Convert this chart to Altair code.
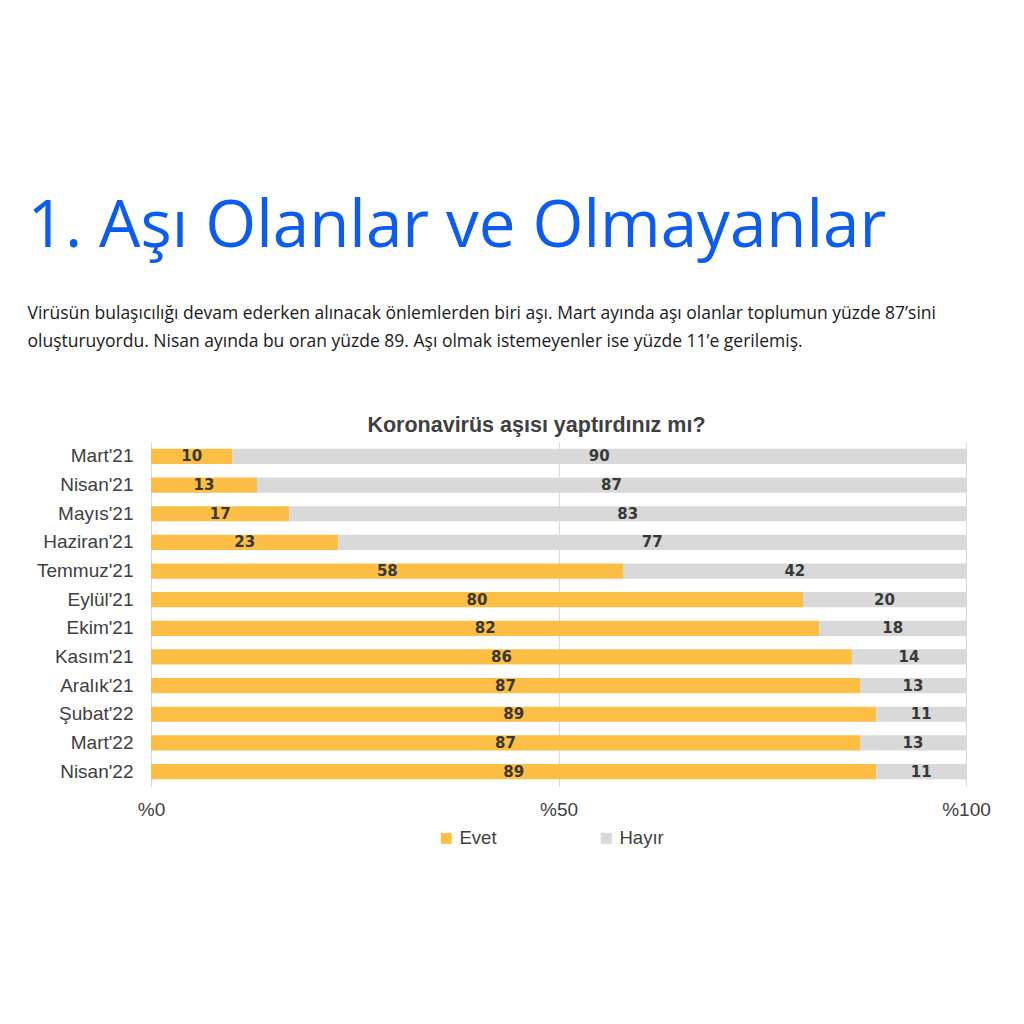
import altair as alt
import pandas as pd

months = ["Mart'21", "Nisan'21", "Mayıs'21", "Haziran'21", "Temmuz'21", "Eylül'21",
          "Ekim'21", "Kasım'21", "Aralık'21", "Şubat'22", "Mart'22", "Nisan'22"]
evet = [10, 13, 17, 23, 58, 80, 82, 86, 87, 89, 87, 89]
hayir = [90, 87, 83, 77, 42, 20, 18, 14, 13, 11, 13, 11]
answers = ["Evet", "Hayır"]
colors = ["#FDBE45", "#D9D9D9"]

main_title = "1. Aşı Olanlar ve Olmayanlar"
paragraph = [
    "Virüsün bulaşıcılığı devam ederken alınacak önlemlerden biri aşı. Mart ayında aşı olanlar toplumun yüzde 87’sini",
    "oluşturuyordu. Nisan ayında bu oran yüzde 89. Aşı olmak istemeyenler ise yüzde 11’e gerilemiş.",
]
chart_title = "Koronavirüs aşısı yaptırdınız mı?"

rows = []
for m, e, h in zip(months, evet, hayir):
    rows.append({"ay": m, "cevap": "Evet", "deger": e, "bas": 0, "son": e, "orta": e / 2})
    rows.append({"ay": m, "cevap": "Hayır", "deger": h, "bas": e, "son": e + h, "orta": e + h / 2})
df = pd.DataFrame(rows)

y_enc = alt.Y("ay:N", sort=months, title=None,
              scale=alt.Scale(paddingInner=0.47, paddingOuter=0.24),
              axis=alt.Axis(labelFontSize=19, labelColor="#404040", labelFont="Liberation Sans",
                            labelPadding=18, ticks=False, domain=True, domainColor="#D9D9D9",
                            grid=False))

bars = alt.Chart(df).mark_bar().encode(
    y=y_enc,
    x=alt.X("bas:Q", scale=alt.Scale(domain=[0, 100], nice=False), title=None,
            axis=alt.Axis(values=[0, 50, 100], labelExpr="'%' + datum.value",
                          labelFlush=False,
                          labelFontSize=19, labelColor="#404040", labelFont="Liberation Sans",
                          labelPadding=14, ticks=False, domain=False,
                          grid=True, gridColor="#D9D9D9", gridWidth=1)),
    x2="son:Q",
    color=alt.Color("cevap:N", scale=alt.Scale(domain=answers, range=colors),
                    legend=alt.Legend(title=None, orient="none", legendX=286, legendY=387,
                                      direction="horizontal",
                                      symbolType="square", symbolSize=120, symbolStrokeWidth=0,
                                      labelFontSize=18.5, labelColor="#404040",
                                      labelFont="Liberation Sans", columnPadding=100)),
)

labels = alt.Chart(df).mark_text(font="DejaVu Sans", fontWeight="bold", fontSize=15,
                                 color="#383838", baseline="middle").encode(
    y=alt.Y("ay:N", sort=months),
    x=alt.X("orta:Q"),
    text=alt.Text("deger:Q"),
)

inner = alt.layer(bars, labels).properties(
    width=815, height=344,
    title=alt.TitleParams(chart_title, anchor="middle", fontSize=21.5, font="Liberation Sans",
                          fontWeight="bold", color="#404040", offset=6, dx=-22),
)

chart = alt.vconcat(inner).properties(
    title=alt.TitleParams(main_title, subtitle=paragraph, anchor="start", font="Open Sans",
                          fontSize=65.5, fontWeight="normal", color="#0D5CF0",
                          subtitleFont="Open Sans", subtitleFontSize=17.5,
                          subtitleColor="#1A1A1A", subtitleLineHeight=28,
                          subtitlePadding=45, offset=64, dx=-9),
    padding={"top": 186, "left": 19, "right": 20, "bottom": 20},
    background="white",
).configure_view(stroke=None)

chart.save("out.html", embed_options={"renderer": "svg", "actions": False})
